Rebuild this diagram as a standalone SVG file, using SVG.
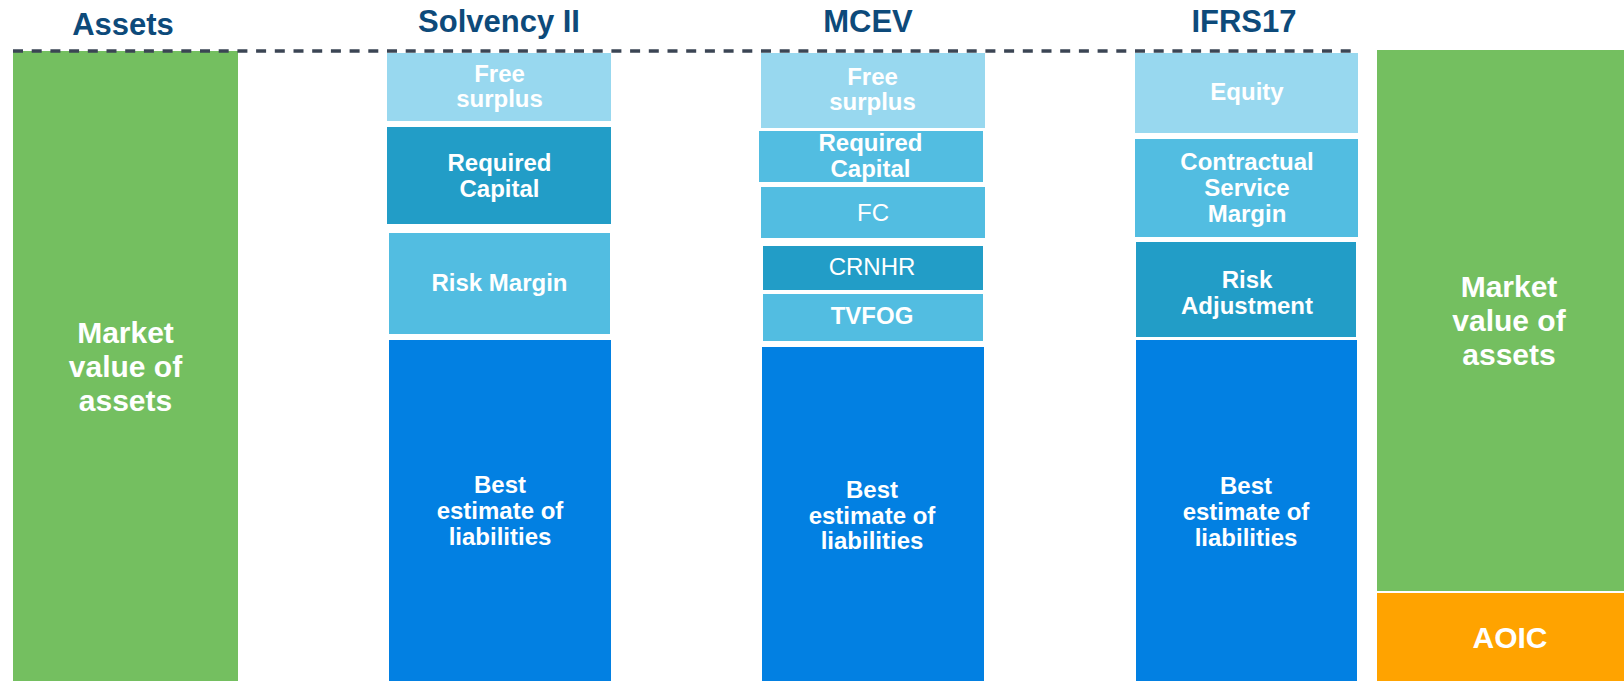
<svg xmlns="http://www.w3.org/2000/svg" width="1624" height="681" viewBox="0 0 1624 681">
<style>
.hd{font-family:"Liberation Sans",Arial,sans-serif;font-weight:bold;font-size:31px;fill:#0D4A7A;text-anchor:middle}
.t{font-family:"Liberation Sans",Arial,sans-serif;font-weight:bold;font-size:24px;fill:#FFFFFF;text-anchor:middle}
.r{font-weight:normal}
.big{font-size:30px}
.light{fill:#98D8EF}
.mid{fill:#52BDE1}
.dark{fill:#229DC7}
.blue{fill:#0280E2}
.green{fill:#74BF60}
.orange{fill:#FFA300}
</style>
<rect width="1624" height="681" fill="#FFFFFF"/>
<g id="headers">
<text class="hd" x="123" y="35">Assets</text>
<text class="hd" x="499" y="32">Solvency II</text>
<text class="hd" x="868" y="32">MCEV</text>
<text class="hd" x="1244" y="32">IFRS17</text>
</g>
<g id="assets-left">
<rect class="green" x="13" y="51" width="225" height="630"/>
<text class="t big" x="125.5" y="343">Market</text>
<text class="t big" x="125.5" y="377">value of</text>
<text class="t big" x="125.5" y="411">assets</text>
</g>
<g id="solvency-free-surplus">
<rect class="light" x="387" y="53" width="224" height="68"/>
<text class="t" x="499.5" y="82">Free</text>
<text class="t" x="499.5" y="107">surplus</text>
</g>
<g id="solvency-required-capital">
<rect class="dark" x="387" y="127" width="224" height="97"/>
<text class="t" x="499.5" y="171">Required</text>
<text class="t" x="499.5" y="197">Capital</text>
</g>
<g id="solvency-risk-margin">
<rect class="mid" x="389" y="233" width="221" height="101"/>
<text class="t" x="499.5" y="291">Risk Margin</text>
</g>
<g id="solvency-best-estimate">
<rect class="blue" x="389" y="340" width="222" height="341"/>
<text class="t" x="500" y="493">Best</text>
<text class="t" x="500" y="519">estimate of</text>
<text class="t" x="500" y="545">liabilities</text>
</g>
<g id="mcev-free-surplus">
<rect class="light" x="761" y="53" width="224" height="75"/>
<text class="t" x="872.5" y="85">Free</text>
<text class="t" x="872.5" y="110">surplus</text>
</g>
<g id="mcev-required-capital">
<rect class="mid" x="759" y="131" width="224" height="51"/>
<text class="t" x="870.5" y="151">Required</text>
<text class="t" x="870.5" y="177">Capital</text>
</g>
<g id="mcev-fc">
<rect class="mid" x="761" y="187" width="224" height="51"/>
<text class="t r" x="873" y="221">FC</text>
</g>
<g id="mcev-crnhr">
<rect class="dark" x="763" y="246" width="220" height="44"/>
<text class="t r" x="872" y="275">CRNHR</text>
</g>
<g id="mcev-tvfog">
<rect class="mid" x="763" y="294" width="220" height="47"/>
<text class="t" x="872" y="324">TVFOG</text>
</g>
<g id="mcev-best-estimate">
<rect class="blue" x="762" y="347" width="222" height="334"/>
<text class="t" x="872" y="498">Best</text>
<text class="t" x="872" y="524">estimate of</text>
<text class="t" x="872" y="549">liabilities</text>
</g>
<g id="ifrs-equity">
<rect class="light" x="1135" y="53" width="223" height="80"/>
<text class="t" x="1247" y="100">Equity</text>
</g>
<g id="ifrs-csm">
<rect class="mid" x="1135" y="139" width="223" height="98"/>
<text class="t" x="1247" y="170">Contractual</text>
<text class="t" x="1247" y="196">Service</text>
<text class="t" x="1247" y="222">Margin</text>
</g>
<g id="ifrs-risk-adjustment">
<rect class="dark" x="1136" y="242" width="220" height="95"/>
<text class="t" x="1247" y="288">Risk</text>
<text class="t" x="1247" y="314">Adjustment</text>
</g>
<g id="ifrs-best-estimate">
<rect class="blue" x="1136" y="340" width="221" height="341"/>
<text class="t" x="1246" y="494">Best</text>
<text class="t" x="1246" y="520">estimate of</text>
<text class="t" x="1246" y="546">liabilities</text>
</g>
<g id="assets-right">
<rect class="green" x="1377" y="50" width="247" height="541"/>
<text class="t big" x="1509" y="297">Market</text>
<text class="t big" x="1509" y="331">value of</text>
<text class="t big" x="1509" y="365">assets</text>
</g>
<g id="aoic">
<rect class="orange" x="1377" y="593" width="247" height="88"/>
<text class="t big" x="1510" y="648">AOIC</text>
</g>
<g id="connectors">
<line x1="13" y1="51" x2="1358" y2="51" stroke="#3B4554" stroke-width="3.3" stroke-dasharray="10 8.7"/>
</g>
</svg>
